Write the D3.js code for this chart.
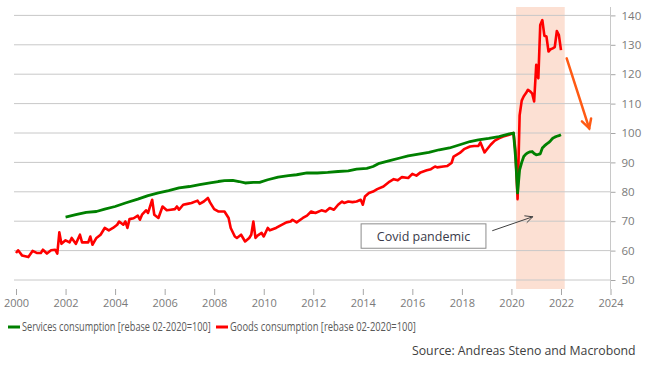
<!DOCTYPE html>
<html>
<head>
<meta charset="utf-8">
<script src="https://cdn.jsdelivr.net/npm/d3@7"></script>
<style>
  body { margin: 0; background: #fff; }
  svg { display: block; }
  text { font-family: "Open Sans", "Noto Sans", sans-serif; }
</style>
</head>
<body>
<div id="chart"></div>
<script>
// goods consumption, rebased 02-2020 = 100
const goodsDates = [
  "2000-01","2000-02","2000-04","2000-07","2000-09","2000-11","2001-01","2001-02","2001-04","2001-06",
  "2001-08","2001-09","2001-10","2001-11","2002-01","2002-03","2002-04","2002-06","2002-08","2002-09",
  "2002-12","2003-01","2003-02","2003-04","2003-06","2003-08","2003-10","2003-12","2004-02","2004-03",
  "2004-05","2004-06","2004-07","2004-08","2004-10","2004-12","2005-01","2005-02","2005-04","2005-05",
  "2005-07","2005-08","2005-10","2005-12","2006-02","2006-04","2006-06","2006-07","2006-08","2006-10",
  "2006-12","2007-02","2007-05","2007-06","2007-08","2007-10","2007-11","2008-01","2008-03","2008-06",
  "2008-08","2008-09","2008-11","2008-12","2009-02","2009-04","2009-06","2009-07","2009-08","2009-09",
  "2009-10","2009-12","2010-01","2010-03","2010-04","2010-07","2010-09","2010-12","2011-02","2011-03",
  "2011-05","2011-08","2011-10","2011-12","2012-02","2012-05","2012-07","2012-09","2012-11","2013-01",
  "2013-03","2013-04","2013-06","2013-08","2013-10","2013-12","2014-01","2014-02","2014-04","2014-06",
  "2014-08","2014-11","2015-02","2015-04","2015-06","2015-08","2015-11","2016-01","2016-03","2016-05",
  "2016-08","2016-10","2016-12","2017-01","2017-04","2017-06","2017-08","2017-09","2017-12","2018-02",
  "2018-05","2018-07","2018-09","2018-10","2018-12","2019-01","2019-03","2019-05","2019-07","2019-09",
  "2019-12","2020-02","2020-03","2020-04","2020-05","2020-06","2020-07","2020-08","2020-09","2020-10",
  "2020-11","2020-12","2021-01","2021-02","2021-03","2021-04","2021-05","2021-06","2021-07","2021-08",
  "2021-09","2021-10","2021-11","2021-12","2022-01"
];
const goodsValues = [
  59.2,60.1,58.3,57.8,59.9,59.2,59.2,60.3,59.0,60.1,
  60.3,59.0,66.2,62.3,63.5,62.8,64.3,62.3,65.4,62.8,
  62.8,64.8,62.0,64.3,65.4,67.7,66.9,67.7,68.8,69.9,
  68.8,69.9,67.7,70.7,71.0,71.9,70.5,72.2,73.7,72.8,
  77.3,72.2,71.1,75.0,73.7,73.9,74.1,75.0,73.9,75.6,
  75.9,76.2,77.0,75.9,76.7,77.9,76.4,74.1,73.3,73.3,
  71.1,67.7,64.8,64.3,65.4,63.1,64.3,65.4,69.9,64.3,
  65.1,66.0,64.8,67.7,66.9,67.7,68.5,69.6,69.9,70.5,
  69.6,71.1,71.9,73.3,72.8,73.7,73.3,74.5,73.9,75.6,
  76.7,76.2,76.7,76.5,76.7,77.3,75.6,78.4,79.6,80.1,
  80.9,81.8,83.5,84.3,83.9,85.0,84.7,86.1,85.5,86.6,
  87.3,87.7,88.6,88.3,88.6,88.8,89.8,92.0,93.2,94.5,
  95.4,95.6,95.6,96.8,93.4,94.3,96.0,97.4,98.2,98.8,
  99.4,100,94,77.5,106,111,112.5,113.5,114.7,114.2,
  113.5,110.7,123.2,118.6,136.7,138.4,133.1,132.8,127.7,128.5,
  128.8,129.2,134.7,133.3,128.2
];

// services consumption, rebased 02-2020 = 100
const servicesDates = [
  "2002-01","2002-06","2002-11","2003-04","2003-08","2004-01","2004-06","2004-12","2005-05","2005-10",
  "2006-03","2006-08","2007-01","2007-06","2007-11","2008-03","2008-06","2008-10","2009-01","2009-04",
  "2009-08","2009-11","2010-03","2010-08","2011-01","2011-05","2011-10","2012-03","2012-08","2013-01",
  "2013-06","2013-10","2014-03","2014-06","2014-09","2015-02","2015-07","2015-11","2016-04","2016-09",
  "2017-02","2017-07","2017-12","2018-05","2018-09","2019-02","2019-07","2019-12","2020-02","2020-03",
  "2020-04","2020-05","2020-06","2020-07","2020-08","2020-09","2020-10","2020-11","2020-12","2021-01",
  "2021-02","2021-03","2021-04","2021-05","2021-06","2021-07","2021-08","2021-09","2021-10","2021-11",
  "2021-12","2022-01"
];
const servicesValues = [
  71.4,72.2,73.0,73.3,74.1,75.0,76.2,77.5,78.7,79.6,
  80.4,81.3,81.8,82.4,83.0,83.5,83.8,83.9,83.5,83.0,
  83.2,83.2,84.1,85.0,85.5,85.8,86.4,86.4,86.6,86.9,
  87.1,87.7,88.0,88.6,89.7,90.6,91.5,92.2,92.8,93.4,
  94.3,94.9,96.0,97.1,97.7,98.2,98.8,99.7,100,92,
  79.6,87.5,90,92,92.8,93.3,93.6,93.7,93.0,92.6,
  92.7,92.9,94.9,95.6,96.2,96.7,97.4,98.2,98.6,98.9,
  99.1,99.4
];

const seriesNames = ["Services consumption [rebase 02-2020=100]", "Goods consumption [rebase 02-2020=100]"];
const seriesColors = ["#008000", "#ff0000"];
const yTicks = [50, 60, 70, 80, 90, 100, 110, 120, 130, 140];
const xTickYears = [2000, 2002, 2004, 2006, 2008, 2010, 2012, 2014, 2016, 2018, 2020, 2022, 2024];
const covidSpan = ["2020-03-10", "2022-02-25"];
const sourceText = "Source: Andreas Steno and Macrobond";
const noteText = "Covid pandemic";

const W = 648, H = 371;
const plot = { left: 16, right: 610.5, top: 7, bottom: 289 };

const parseMonth = d3.timeParse("%Y-%m");
const parseDay = d3.timeParse("%Y-%m-%d");

const goods = goodsDates.map((d, i) => ({ date: parseMonth(d), value: goodsValues[i] }));
const services = servicesDates.map((d, i) => ({ date: parseMonth(d), value: servicesValues[i] }));

const svg = d3.select("#chart").append("svg")
    .attr("width", W)
    .attr("height", H);

const x = d3.scaleTime()
    .domain([new Date(2000, 0, 1), new Date(2024, 0, 1)])
    .range([plot.left, plot.right]);

const y = d3.scaleLinear()
    .domain([50, 140])
    .range([280, 15.4]);

// covid shading
svg.append("rect")
    .attr("x", x(parseDay(covidSpan[0])))
    .attr("y", plot.top)
    .attr("width", x(parseDay(covidSpan[1])) - x(parseDay(covidSpan[0])))
    .attr("height", plot.bottom - plot.top)
    .attr("fill", "#fce0d3");

// gridlines
svg.append("g")
    .selectAll("line")
    .data(yTicks)
    .join("line")
    .attr("x1", 14)
    .attr("x2", plot.right)
    .attr("y1", d => y(d))
    .attr("y2", d => y(d))
    .attr("stroke", "#c8c8c8")
    .attr("stroke-width", 1);

// right axis
const yAxis = d3.axisRight(y)
    .tickValues(yTicks)
    .tickSize(5)
    .tickPadding(6);

const gy = svg.append("g")
    .attr("transform", `translate(${plot.right},0)`)
    .call(yAxis);
gy.select(".domain").remove();
gy.selectAll(".tick line").attr("stroke", "#a6a6a6");
gy.selectAll(".tick text")
    .attr("fill", "#7a7a7a")
    .style("font-size", "11.5px")
    .style("font-family", "'Open Sans', sans-serif");
svg.append("line")
    .attr("x1", plot.right).attr("x2", plot.right)
    .attr("y1", plot.top).attr("y2", plot.bottom)
    .attr("stroke", "#c8c8c8");

// bottom axis
const xAxis = d3.axisBottom(x)
    .tickValues(xTickYears.map(yr => new Date(yr, 0, 1)))
    .tickFormat(d3.timeFormat("%Y"))
    .tickSize(6)
    .tickPadding(4);

const gx = svg.append("g")
    .attr("transform", `translate(0,${plot.bottom})`)
    .call(xAxis);
gx.select(".domain").remove();
gx.selectAll(".tick line").attr("stroke", "#a6a6a6");
gx.selectAll(".tick text")
    .attr("fill", "#7a7a7a")
    .style("font-size", "11px")
    .style("font-family", "'Open Sans', sans-serif");

// lines
const line = d3.line()
    .x(d => x(d.date))
    .y(d => y(d.value));

svg.append("path")
    .datum(goods)
    .attr("fill", "none")
    .attr("stroke", seriesColors[1])
    .attr("stroke-width", 2.6)
    .attr("stroke-linejoin", "round")
    .attr("d", line);

svg.append("path")
    .datum(services)
    .attr("fill", "none")
    .attr("stroke", seriesColors[0])
    .attr("stroke-width", 2.8)
    .attr("stroke-linejoin", "round")
    .attr("d", line);

// annotation box + thin arrow
const noteBox = { x0: 2013.93, x1: 2018.97, top: 69.1, bottom: 60.8 };
const yr = v => new Date(Math.floor(v), 0, 1).getTime() + (v % 1) * 365.25 * 864e5;
svg.append("rect")
    .attr("x", x(yr(noteBox.x0)))
    .attr("y", y(noteBox.top))
    .attr("width", x(yr(noteBox.x1)) - x(yr(noteBox.x0)))
    .attr("height", y(noteBox.bottom) - y(noteBox.top))
    .attr("fill", "#fff")
    .attr("stroke", "#8c8c8c")
    .attr("stroke-width", 1);
svg.append("text")
    .attr("x", (x(yr(noteBox.x0)) + x(yr(noteBox.x1))) / 2)
    .attr("y", y(noteBox.bottom) - 7)
    .attr("text-anchor", "middle")
    .attr("fill", "#3a3a4a")
    .style("font-size", "12.5px")
    .text(noteText);

function arrow(x1, y1, x2, y2, color, width, head, spread) {
    const a = Math.atan2(y2 - y1, x2 - x1);
    const g = svg.append("g")
        .attr("stroke", color)
        .attr("stroke-width", width)
        .attr("fill", "none")
        .attr("stroke-linecap", "round");
    g.append("line").attr("x1", x1).attr("y1", y1).attr("x2", x2).attr("y2", y2);
    g.append("path").attr("d",
        `M${x2 - head * Math.cos(a - spread)},${y2 - head * Math.sin(a - spread)}` +
        `L${x2},${y2}` +
        `L${x2 - head * Math.cos(a + spread)},${y2 - head * Math.sin(a + spread)}`);
}

arrow(x(yr(2019.24)), y(66.8), x(yr(2020.86)), y(71.5), "#404040", 1, 8, 0.45);
arrow(x(yr(2022.23)), y(125.4), x(yr(2023.14)), y(101.6), "#ff5a14", 2.5, 10, 0.5);

// squeezed text: the reference font is narrower than anything installed
function fitText(px, py, txt, width, size, color, anchor) {
    const g = svg.append("g");
    const t = g.append("text")
        .attr("fill", color)
        .style("font-size", size + "px")
        .text(txt);
    const natural = t.node().getComputedTextLength();
    const sx = Math.min(1, width / natural);
    const left = anchor === "end" ? px - natural * sx : px;
    g.attr("transform", `translate(${left},${py}) scale(${sx},1)`);
}

// legend
const legendX = [8, 216];
const legendW = [189, 186];
seriesNames.forEach((name, i) => {
    svg.append("line")
        .attr("x1", legendX[i]).attr("x2", legendX[i] + 12)
        .attr("y1", 327).attr("y2", 327)
        .attr("stroke", seriesColors[i])
        .attr("stroke-width", 3);
    fitText(legendX[i] + 14, 331, name, legendW[i], 12, "#595959");
});

fitText(636, 355, sourceText, 224, 12.5, "#404040", "end");
</script>
</body>
</html>
